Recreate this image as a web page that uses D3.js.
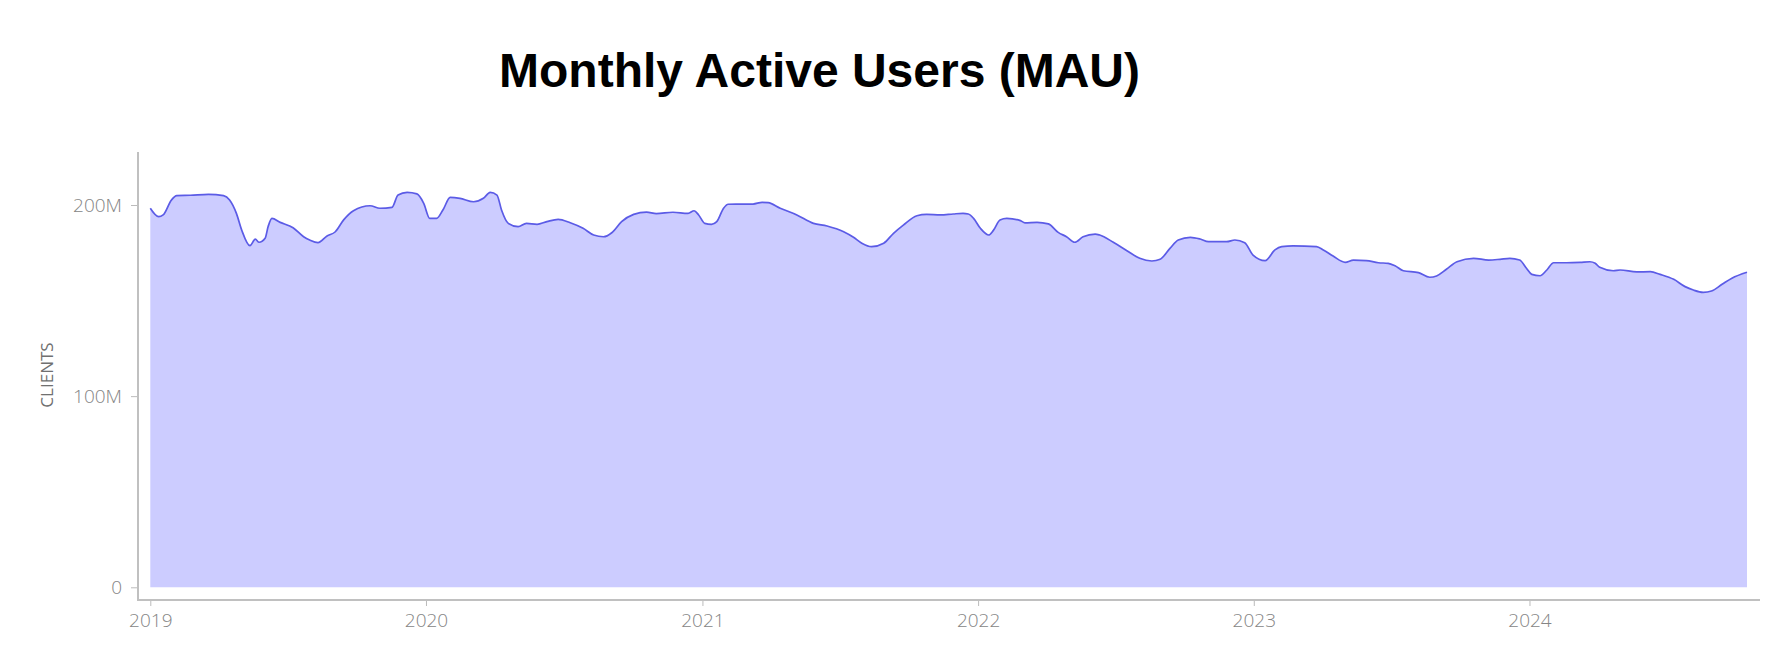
<!DOCTYPE html>
<html>
<head>
<meta charset="utf-8">
<script src="https://cdn.jsdelivr.net/npm/d3@7"></script>
<style>
  body { margin: 0; background: #fff; }
  .tick text { font-family: "Open Sans", "Noto Sans", sans-serif; font-weight: 300; font-size: 19px; fill: #858585; }
  .tick line { stroke: #bbb; }
</style>
</head>
<body>
<div id="mauchart"></div>
<script>
// values (millions of users)
var dates = [
  "2019-01-01","2019-01-12","2019-01-18","2019-01-29","2019-02-05","2019-02-23","2019-03-19","2019-04-08",
  "2019-04-16","2019-04-25","2019-05-02","2019-05-13","2019-05-20","2019-05-25","2019-06-02","2019-06-06",
  "2019-06-11","2019-06-22","2019-07-09","2019-07-23","2019-07-31","2019-08-11","2019-08-23","2019-09-03",
  "2019-09-14","2019-09-27","2019-10-19","2019-11-01","2019-11-17","2019-11-25","2019-12-07","2019-12-20",
  "2019-12-29","2020-01-06","2020-01-15","2020-01-24","2020-02-02","2020-02-15","2020-03-04","2020-03-17",
  "2020-03-26","2020-04-04","2020-04-10","2020-04-19","2020-05-02","2020-05-13","2020-05-27","2020-06-09",
  "2020-06-24","2020-07-10","2020-07-27","2020-08-10","2020-08-23","2020-09-03","2020-09-16","2020-10-02",
  "2020-10-19","2020-11-01","2020-11-23","2020-12-13","2020-12-21","2020-12-27","2021-01-04","2021-01-13",
  "2021-01-20","2021-01-29","2021-02-04","2021-03-09","2021-03-21","2021-03-29","2021-04-14","2021-05-06",
  "2021-05-28","2021-06-15","2021-07-07","2021-07-20","2021-07-31","2021-08-13","2021-08-29","2021-09-11",
  "2021-09-24","2021-10-12","2021-10-25","2021-11-12","2021-11-29","2021-12-12","2021-12-19","2021-12-26",
  "2022-01-04","2022-01-15","2022-01-21","2022-01-30","2022-02-08","2022-02-26","2022-03-04","2022-03-20",
  "2022-04-04","2022-04-17","2022-04-28","2022-05-09","2022-05-20","2022-06-05","2022-06-11","2022-06-29",
  "2022-07-17","2022-08-03","2022-08-19","2022-08-30","2022-09-12","2022-09-23","2022-10-09","2022-10-22",
  "2022-11-02","2022-11-26","2022-12-07","2022-12-20","2022-12-31","2023-01-16","2023-01-29","2023-02-07",
  "2023-02-22","2023-03-25","2023-04-03","2023-04-16","2023-05-02","2023-05-13","2023-05-30","2023-06-15",
  "2023-06-28","2023-07-07","2023-07-18","2023-08-07","2023-08-22","2023-08-31","2023-09-13","2023-09-27",
  "2023-10-19","2023-11-08","2023-11-23","2023-12-06","2023-12-19","2023-12-28","2024-01-04","2024-01-15",
  "2024-01-24","2024-02-02","2024-02-19","2024-03-08","2024-03-21","2024-03-28","2024-04-03","2024-04-21",
  "2024-04-30","2024-05-22","2024-06-09","2024-06-22","2024-07-10","2024-07-25","2024-08-05","2024-08-18",
  "2024-08-29","2024-09-12","2024-09-25","2024-10-15"
];
var users = [
  198.3,193.9,194.8,202.6,204.9,205.1,205.6,204.9,
  202.6,195.6,186.9,178.7,182.1,180.5,182.6,188.7,
  193.0,190.9,188.1,183.4,181.7,180.3,183.8,186.0,
  192.2,197.0,199.6,198.3,198.8,205.2,206.6,205.8,
  200.9,193.0,193.0,197.8,204.0,203.5,201.7,203.5,
  206.6,205.2,197.4,190.4,188.7,190.4,189.9,191.3,
  192.5,190.7,187.8,184.3,183.4,185.5,191.3,195.1,
  196.3,195.5,196.2,195.6,197.0,194.8,190.4,189.9,
  191.3,198.3,200.4,200.5,201.4,201.2,198.3,194.8,
  190.4,189.0,186.0,183.1,180.0,178.2,180.0,185.2,
  189.5,194.4,195.1,194.8,195.3,195.6,195.3,193.0,
  187.8,184.3,186.6,192.2,193.0,191.8,190.7,190.9,
  190.1,185.7,183.4,180.5,183.4,184.8,184.3,180.5,
  176.1,172.1,170.7,171.6,177.3,181.7,183.1,182.2,
  180.8,180.8,181.7,180.3,173.8,170.9,176.5,178.2,
  178.6,178.2,176.5,173.3,170.0,171.2,170.9,169.8,
  169.5,168.2,165.6,164.6,162.2,162.9,166.4,170.3,
  172.1,171.2,171.6,172.1,171.2,166.9,163.7,163.0,
  166.0,169.8,169.8,170.0,170.3,169.5,167.4,165.6,
  166.0,165.0,165.1,163.7,161.1,157.3,155.5,154.3,
  155.0,158.5,161.7,164.8
];
var yTicks = [0, 100, 200];
var yTickLabels = ["0", "100M", "200M"];
var title = "Monthly Active Users (MAU)";
var yTitle = "CLIENTS";

var parse = d3.utcParse("%Y-%m-%d");
var data = dates.map(function(d, i) { return { date: parse(d), value: users[i] }; });

var svg = d3.select("#mauchart").append("svg")
    .attr("width", 1778)
    .attr("height", 660);

var x = d3.scaleUtc()
    .domain([parse("2019-01-01"), parse("2024-10-15")])
    .range([150.3, 1747]);

var y = d3.scaleLinear()
    .domain([0, 200])
    .range([587.3, 205]);

var area = d3.area()
    .curve(d3.curveMonotoneX)
    .x(function(d) { return x(d.date); })
    .y0(y(0))
    .y1(function(d) { return y(d.value); });

var line = d3.line()
    .curve(d3.curveMonotoneX)
    .x(function(d) { return x(d.date); })
    .y(function(d) { return y(d.value); });

svg.append("path")
    .datum(data)
    .attr("d", area)
    .attr("fill", "#ccccff");

svg.append("path")
    .datum(data)
    .attr("d", line)
    .attr("fill", "none")
    .attr("stroke", "#5b5be6")
    .attr("stroke-width", 1.7);

// axes, offset from the plot area
var yAxis = svg.append("g")
    .attr("transform", "translate(138,0)")
    .call(d3.axisLeft(y).tickValues(yTicks).tickSize(7).tickPadding(9)
        .tickFormat(function(d, i) { return yTickLabels[i]; }));
yAxis.select(".domain").remove();
yAxis.append("line")
    .attr("x1", 0).attr("x2", 0)
    .attr("y1", 152).attr("y2", 601)
    .attr("stroke", "#c0c0c0")
    .attr("stroke-width", 2);

var xAxis = svg.append("g")
    .attr("transform", "translate(0,600)")
    .call(d3.axisBottom(x).ticks(d3.utcYear).tickSize(6).tickPadding(8)
        .tickFormat(d3.utcFormat("%Y")));
xAxis.select(".domain").remove();
xAxis.append("line")
    .attr("x1", 137).attr("x2", 1760)
    .attr("y1", 0).attr("y2", 0)
    .attr("stroke", "#c0c0c0")
    .attr("stroke-width", 2);

svg.append("text")
    .attr("transform", "translate(53,375) rotate(-90)")
    .attr("text-anchor", "middle")
    .attr("font-family", "Open Sans, sans-serif")
    .attr("font-size", "17px")
    .attr("fill", "#707070")
    .text(yTitle);

svg.append("text")
    .attr("x", 819.5)
    .attr("y", 86.5)
    .attr("text-anchor", "middle")
    .attr("font-family", "Liberation Sans, Arial, sans-serif")
    .attr("font-weight", "bold")
    .attr("font-size", "48px")
    .attr("fill", "#000")
    .text(title);
</script>
</body>
</html>
